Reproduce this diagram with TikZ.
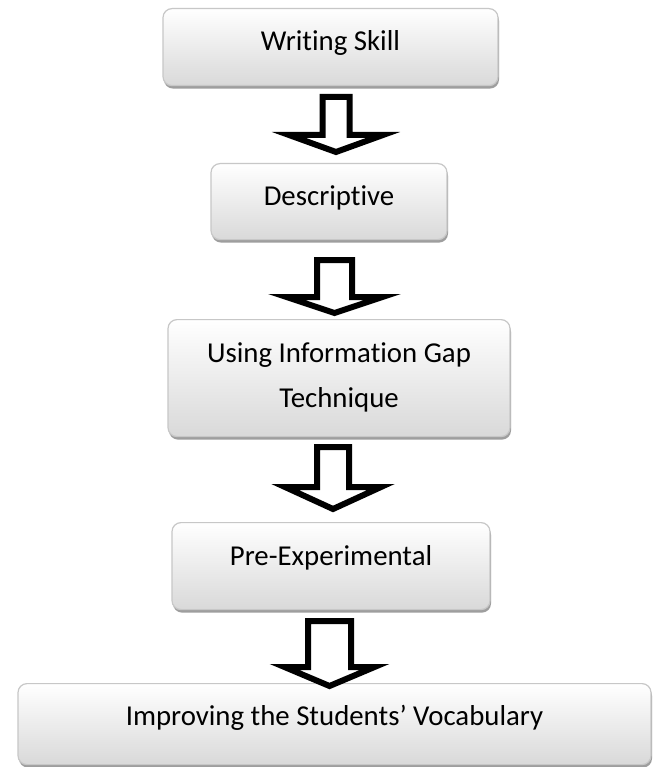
\documentclass[tikz,border=0pt]{standalone}
\usepackage{fontspec}
\setmainfont{Carlito}[Ligatures=CommonOff]
\usetikzlibrary{shadows}
\newcommand\blockarr[6]{%
  \draw[arrowbody] (#1-#3,#2) -- (#1+#3,#2) -- (#1+#3,#4) -- (#1+#5,#4) -- (#1,#6) -- (#1-#5,#4) -- (#1-#3,#4) -- cycle;}
\tikzset{
  box/.style={draw=black!22, line width=1.2pt, rounded corners=9pt,
    top color=white, bottom color=black!15, inner sep=0pt, anchor=north,
    font=\fontsize{28.8}{45}\selectfont,
    drop shadow={shadow xshift=1pt, shadow yshift=-3pt, fill=black!38, opacity=1}},
  arrowbody/.style={draw=black, line width=6pt, fill=white, line join=miter}
}
\begin{document}
\begin{tikzpicture}[x=1pt,y=-1pt]
\useasboundingbox (0,0) rectangle (654,767);
\fill[white] (0,0) rectangle (654,767);
\node[box, minimum width=335pt, text height=42pt, text depth=35pt] (b1) at (330.5,8) {Writing Skill};
\node[box, minimum width=236pt, text height=42pt, text depth=34pt] (b2) at (329,163) {Descriptive};
\node[box, minimum width=342pt, text height=43pt, text depth=74pt] (b3) at (339,319)
  {\raisebox{0pt}[0pt][0pt]{\parbox[t]{330pt}{\centering Using Information Gap\\Technique}}};
\node[box, minimum width=318pt, text height=43pt, text depth=44pt] (b4) at (331,522) {Pre-Experimental};
\node[box, minimum width=633pt, text height=42pt, text depth=39pt] (b5) at (334.5,683) {Improving the Students’ Vocabulary};
\blockarr{336}{97}{13.5}{135}{47}{152}
\blockarr{334.5}{260}{17.5}{297}{48}{313}
\blockarr{333}{447}{16}{487}{48}{509}
\blockarr{329.5}{621}{21.5}{667}{45}{686}
\end{tikzpicture}
\end{document}
